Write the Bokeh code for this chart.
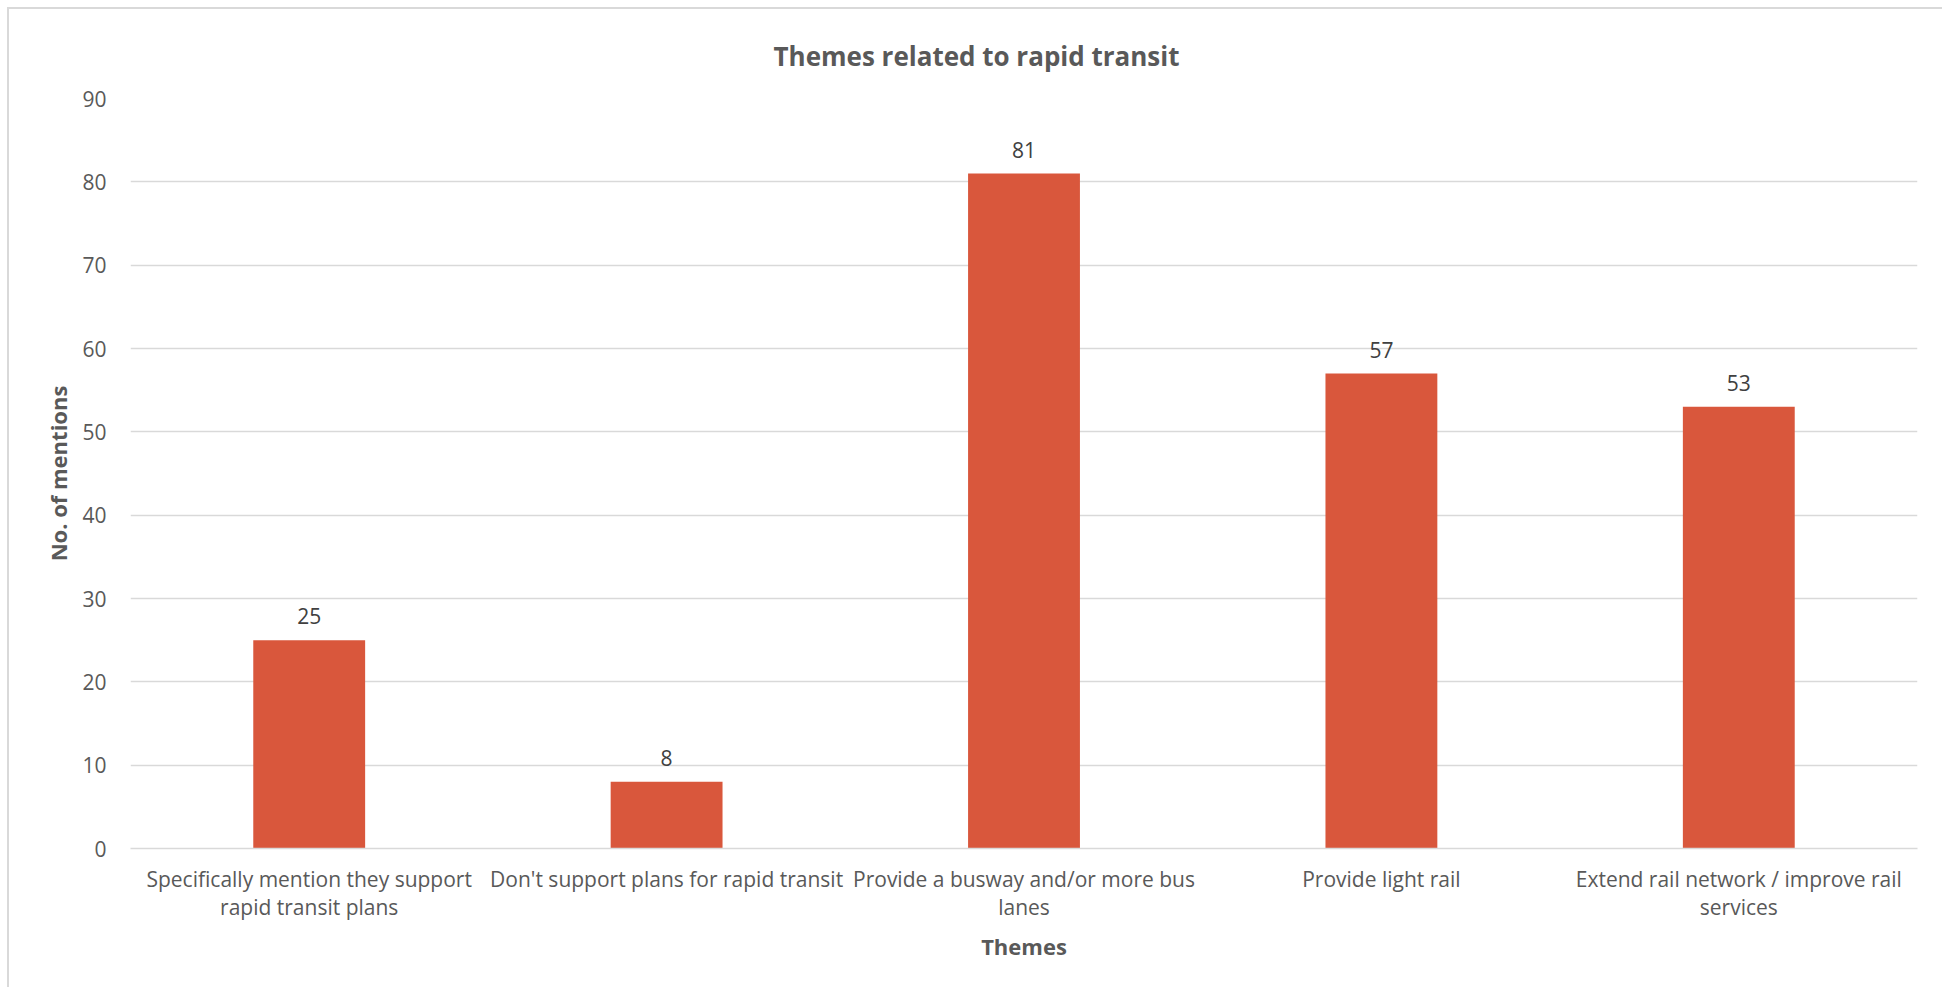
from bokeh.plotting import figure
from bokeh.models import ColumnDataSource, Title, LabelSet, FixedTicker
from bokeh.core.properties import value
from bokeh.embed import file_html
from bokeh.resources import INLINE

categories = [
    "Specifically mention they support\nrapid transit plans",
    "Don't support plans for rapid transit",
    "Provide a busway and/or more bus\nlanes",
    "Provide light rail",
    "Extend rail network / improve rail\nservices",
]
values = [25, 8, 81, 57, 53]
y_ticks = [0, 10, 20, 30, 40, 50, 60, 70, 80, 90]

FONT = "Open Sans"
BAR = "#D9573C"

src = ColumnDataSource(dict(cat=categories, val=values, lab=[str(v) for v in values]))

p = figure(x_range=categories, y_range=(0, 90), width=1935, height=980,
           output_backend="svg", toolbar_location=None,
           min_border_left=121, min_border_right=27, min_border_top=89, min_border_bottom=141)
p.styles = {"margin-left": "7px", "margin-top": "7px",
            "border-left": "2px solid #d9d9d9", "border-top": "2px solid #d9d9d9"}
p.outline_line_color = None
p.background_fill_color = "white"
p.border_fill_color = "white"

p.vbar(x="cat", top="val", width=0.313, source=src, color=BAR, line_color=None)

labels = LabelSet(x="cat", y="val", text="lab", source=src, text_align="center",
                  text_baseline="bottom", y_offset=16, text_font=value(FONT),
                  text_font_size="21px", text_color="#404040")
p.add_layout(labels)

p.add_layout(Title(text="Themes related to rapid transit", text_font=FONT,
                   text_font_size="26px", text_font_style="bold",
                   text_color="#595959", align="left", offset=643,
                   standoff=50), "above")

p.xgrid.grid_line_color = None
p.ygrid.grid_line_color = "#d9d9d9"
p.ygrid.grid_line_width = 1.5
p.yaxis.ticker = FixedTicker(ticks=y_ticks)
p.yaxis.axis_line_color = None
p.yaxis.major_tick_line_color = None
p.yaxis.minor_tick_line_color = None
p.yaxis.major_label_standoff = 18
p.yaxis.major_label_text_font = FONT
p.yaxis.major_label_text_font_size = "21px"
p.yaxis.major_label_text_color = "#595959"
p.yaxis.axis_label = "No. of mentions"
p.yaxis.axis_label_text_font = FONT
p.yaxis.axis_label_text_font_size = "22px"
p.yaxis.axis_label_text_font_style = "bold"
p.yaxis.axis_label_text_color = "#595959"
p.yaxis.axis_label_standoff = 6

p.xaxis.axis_line_color = "#d9d9d9"
p.xaxis.axis_line_width = 1.5
p.xaxis.major_tick_line_color = None
p.xaxis.minor_tick_line_color = None
p.xaxis.major_label_standoff = 10
p.xaxis.major_label_text_font = FONT
p.xaxis.major_label_text_font_size = "21px"
p.xaxis.major_label_text_color = "#595959"
p.xaxis.major_label_text_line_height = 1.0
p.xaxis.axis_label = "Themes"
p.xaxis.axis_label_text_font = FONT
p.xaxis.axis_label_text_font_size = "22px"
p.xaxis.axis_label_text_font_style = "bold"
p.xaxis.axis_label_text_color = "#595959"
p.xaxis.axis_label_standoff = 7

open("out.html", "w").write(file_html(p, INLINE))
